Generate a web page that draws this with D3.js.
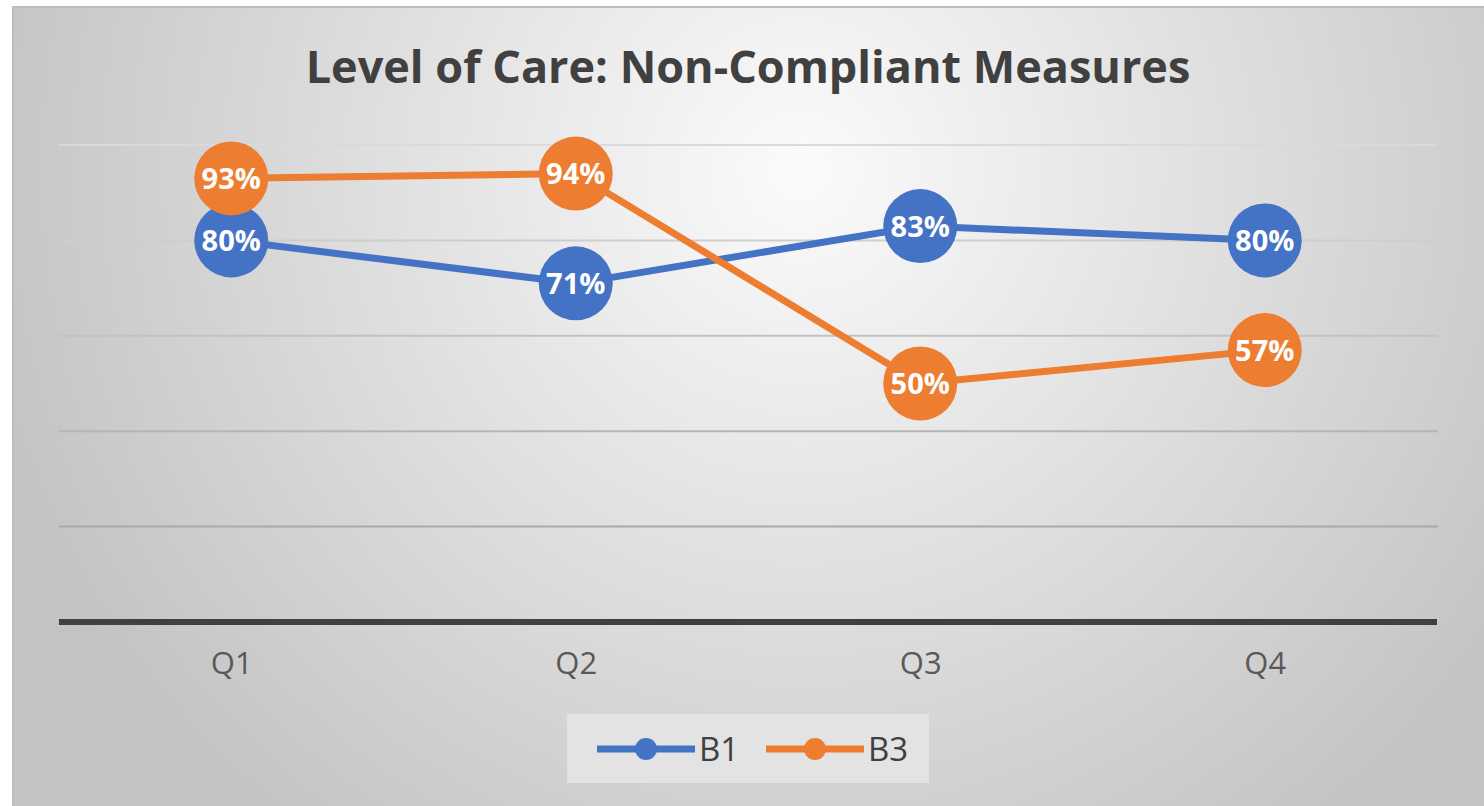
<!DOCTYPE html>
<html>
<head>
<meta charset="utf-8">
<script src="https://cdn.jsdelivr.net/npm/d3@7/dist/d3.min.js"></script>
<style>
  html, body { margin: 0; padding: 0; background: #fff; }
  svg { display: block; font-family: "Open Sans", "Noto Sans", sans-serif; }
</style>
</head>
<body>
<svg width="1484" height="806"></svg>
<script>
const quarters = ["Q1", "Q2", "Q3", "Q4"];
const seriesNames = ["B1", "B3"];
const b1Values = [80, 71, 83, 80];
const b3Values = [93, 94, 50, 57];
const yTicks = [0, 20, 40, 60, 80, 100];
const seriesColors = ["#4472c4", "#ed7d31"];

const svg = d3.select("svg");
const width = +svg.attr("width"),
      height = +svg.attr("height");

const series = [
  {name: seriesNames[0], values: b1Values, color: seriesColors[0]},
  {name: seriesNames[1], values: b3Values, color: seriesColors[1]}
];

// background gradient like the office chart style
const defs = svg.append("defs");
const grad = defs.append("radialGradient")
  .attr("id", "bg")
  .attr("gradientUnits", "userSpaceOnUse")
  .attr("cx", 800).attr("cy", 170).attr("r", 850);
grad.append("stop").attr("offset", "0").attr("stop-color", "#fbfbfb");
grad.append("stop").attr("offset", "1").attr("stop-color", "#c3c3c3");

svg.append("rect")
  .attr("x", 13).attr("y", 7)
  .attr("width", width).attr("height", height)
  .attr("fill", "url(#bg)")
  .attr("stroke", "#bdbdbd")
  .attr("stroke-width", 2);

svg.append("text")
  .attr("x", 748).attr("y", 83)
  .attr("text-anchor", "middle")
  .attr("font-size", 45)
  .attr("font-weight", "bold")
  .attr("fill", "#404040")
  .text("Level of Care: Non-Compliant Measures");

const x = d3.scalePoint()
  .domain(quarters)
  .range([59, 1437])
  .padding(0.5);

const y = d3.scaleLinear()
  .domain([0, 100])
  .range([622, 145]);

// gridlines get darker toward the bottom
const gridColor = d3.scaleLinear()
  .domain([20, 100])
  .range(["#a9a9a9", "#dadada"]);

svg.append("g")
  .selectAll("line")
  .data(yTicks.filter(d => d > 0))
  .enter().append("line")
  .attr("x1", 59).attr("x2", 1438)
  .attr("y1", d => y(d)).attr("y2", d => y(d))
  .attr("stroke", d => gridColor(d))
  .attr("stroke-width", 2);

const xAxis = svg.append("g")
  .attr("transform", `translate(0,${y(0)})`)
  .call(d3.axisBottom(x).tickSize(0).tickPadding(30));
xAxis.select(".domain")
  .attr("d", "M59,0H1437")
  .attr("stroke", "#404040")
  .attr("stroke-width", 6);
xAxis.selectAll("text")
  .attr("font-size", 31)
  .attr("font-family", "Open Sans, sans-serif")
  .attr("fill", "#595959");

const line = d3.line()
  .x((d, i) => x(quarters[i]))
  .y(d => y(d));

const sg = svg.append("g")
  .selectAll("g")
  .data(series)
  .enter().append("g");

sg.append("path")
  .attr("d", d => line(d.values))
  .attr("fill", "none")
  .attr("stroke", d => d.color)
  .attr("stroke-width", 7)
  .attr("stroke-linejoin", "round");

sg.selectAll("circle")
  .data(d => d.values.map((v, i) => ({v, i, color: d.color})))
  .enter().append("circle")
  .attr("cx", d => x(quarters[d.i]))
  .attr("cy", d => y(d.v))
  .attr("r", 37)
  .attr("fill", d => d.color);

sg.selectAll("text.lbl")
  .data(d => d.values.map((v, i) => ({v, i})))
  .enter().append("text")
  .attr("class", "lbl")
  .attr("x", d => x(quarters[d.i]))
  .attr("y", d => y(d.v))
  .attr("dy", "0.36em")
  .attr("text-anchor", "middle")
  .attr("font-size", 29)
  .attr("font-weight", "bold")
  .attr("fill", "#fff")
  .text(d => d.v + "%");

// legend
const legend = svg.append("g");
legend.append("rect")
  .attr("x", 567).attr("y", 714)
  .attr("width", 362).attr("height", 69)
  .attr("fill", "#e3e3e3");

const li = legend.selectAll("g")
  .data(series)
  .enter().append("g")
  .attr("transform", (d, i) => `translate(${597 + i * 169},749)`);

li.append("line")
  .attr("x1", 0).attr("x2", 98)
  .attr("stroke", d => d.color)
  .attr("stroke-width", 7);
li.append("circle")
  .attr("cx", 49).attr("r", 11)
  .attr("fill", d => d.color);
li.append("text")
  .attr("x", 102)
  .attr("dy", "0.36em")
  .attr("font-size", 33)
  .attr("fill", "#404040")
  .text(d => d.name);
</script>
</body>
</html>
